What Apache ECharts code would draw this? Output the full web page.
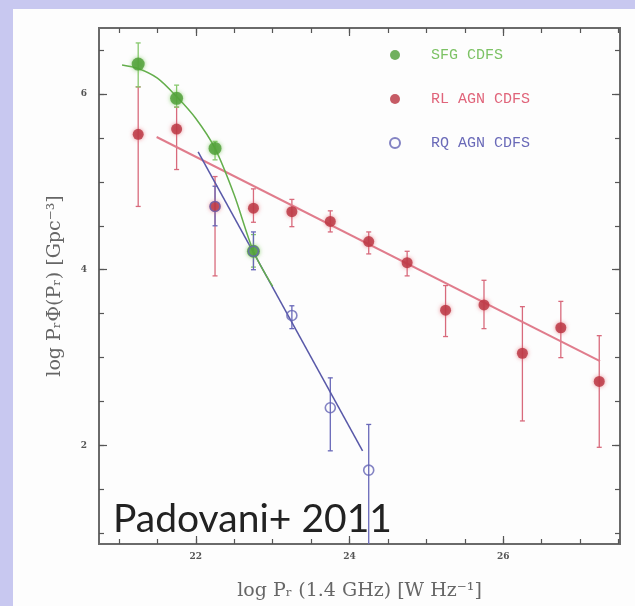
<!DOCTYPE html>
<html>
<head>
<meta charset="utf-8">
<title>Padovani+ 2011</title>
<script src="https://cdn.jsdelivr.net/npm/echarts@6/dist/echarts.min.js"></script>
<style>
	html, body { margin: 0; padding: 0; background: #c8c8f0; }
	#container { width: 635px; height: 606px; filter: blur(0.5px); }
</style>
</head>
<body>
<div id="container"></div>
<script>

// SFG CDFS
var sfgX = [21.25, 21.75, 22.25, 22.75];
var sfgY = [6.34, 5.95, 5.38, 4.21];
var sfgLo = [6.08, 5.85, 5.25, 4.03];
var sfgHi = [6.58, 6.10, 5.46, 4.40];
var sfgFitX = [21.04, 21.25, 21.5, 21.75, 22.0, 22.25, 22.5, 22.75, 23.0];
var sfgFitY = [6.33, 6.29, 6.18, 5.97, 5.72, 5.38, 4.85, 4.21, 3.81];

// RL AGN CDFS
var rlX = [21.25, 21.75, 22.25, 22.75, 23.25, 23.75, 24.25, 24.75, 25.25, 25.75, 26.25, 26.75, 27.25];
var rlY = [5.54, 5.60, 4.72, 4.70, 4.66, 4.55, 4.32, 4.08, 3.54, 3.60, 3.05, 3.34, 2.73];
var rlLo = [4.72, 5.14, 3.93, 4.54, 4.49, 4.43, 4.18, 3.93, 3.24, 3.33, 2.28, 3.00, 1.98];
var rlHi = [6.08, 5.85, 5.06, 4.92, 4.80, 4.67, 4.43, 4.21, 3.82, 3.88, 3.58, 3.64, 3.25];
var rlFitX = [21.49, 27.26];
var rlFitY = [5.51, 2.96];

// RQ AGN CDFS
var rqX = [22.25, 22.75, 23.25, 23.75, 24.25];
var rqY = [4.72, 4.21, 3.48, 2.43, 1.72];
var rqLo = [4.50, 4.00, 3.33, 1.94, 0.80];
var rqHi = [4.95, 4.43, 3.59, 2.77, 2.24];
var rqFitX = [22.03, 24.17];
var rqFitY = [5.34, 1.94];

// axes
var xMin = 20.74, xMax = 27.52;
var yMin = 0.88, yMax = 6.75;
var xMajor = [22, 24, 26];
var xMinor = [21, 21.5, 22, 22.5, 23, 23.5, 24, 24.5, 25, 25.5, 26, 26.5, 27, 27.5];
var yMajor = [2, 4, 6];
var yMinor = [1, 1.5, 2, 2.5, 3, 3.5, 4, 4.5, 5, 5.5, 6, 6.5];

function zip(a, b) {
	return a.map(function (v, i) { return [v, b[i]]; });
}

function errorSeries(xs, lo, hi, color) {
	var data = xs.map(function (x, i) { return [x, lo[i], hi[i]]; });
	return {
		type: 'custom',
		silent: true,
		clip: true,
		z: 1,
		encode: { x: 0, y: [1, 2] },
		data: data,
		renderItem: function (params, api) {
			var p1 = api.coord([api.value(0), api.value(1)]);
			var p2 = api.coord([api.value(0), api.value(2)]);
			var cap = 2.5;
			var st = { stroke: color, lineWidth: 1.3 };
			return {
				type: 'group',
				children: [
					{ type: 'line', shape: { x1: p1[0], y1: p1[1], x2: p2[0], y2: p2[1] }, style: st },
					{ type: 'line', shape: { x1: p1[0] - cap, y1: p1[1], x2: p1[0] + cap, y2: p1[1] }, style: st },
					{ type: 'line', shape: { x1: p2[0] - cap, y1: p2[1], x2: p2[0] + cap, y2: p2[1] }, style: st }
				]
			};
		}
	};
}

function xAxisDef(pos, ticks, len, labels) {
	return {
		type: 'value', position: pos, min: xMin, max: xMax,
		axisLine: { show: false },
		splitLine: { show: false },
		axisTick: { show: true, inside: true, length: len, customValues: ticks, lineStyle: { color: '#555', width: 1.2 } },
		axisLabel: labels ? {
			customValues: xMajor, margin: 8,
			fontSize: 9, fontWeight: 'bold', fontFamily: 'DejaVu Serif', color: '#555'
		} : { show: false },
		name: labels ? 'log P\u1d63 (1.4 GHz) [W Hz\u207b\u00b9]' : '',
		nameLocation: 'middle',
		nameGap: 38,
		nameTextStyle: { fontFamily: 'DejaVu Serif', fontSize: 19, color: '#666' }
	};
}

function yAxisDef(pos, ticks, len, labels) {
	return {
		type: 'value', position: pos, min: yMin, max: yMax,
		axisLine: { show: false },
		splitLine: { show: false },
		axisTick: { show: true, inside: true, length: len, customValues: ticks, lineStyle: { color: '#555', width: 1.2 } },
		axisLabel: labels ? {
			customValues: yMajor, margin: 12,
			fontSize: 9, fontWeight: 'bold', fontFamily: 'DejaVu Serif', color: '#555'
		} : { show: false },
		name: labels ? 'log P\u1d63\u03a6(P\u1d63) [Gpc\u207b\u00b3]' : '',
		nameLocation: 'middle',
		nameGap: 34,
		nameRotate: 90,
		nameTextStyle: { fontFamily: 'DejaVu Serif', fontSize: 19, color: '#666' }
	};
}

function obtenerGrafica() {
	var dom = document.getElementById('container');
	var myChart = echarts.init(dom);

	var option = {
		backgroundColor: '#c8c8f0',
		animation: false,
		grid: {
			left: 99, top: 28, right: 15, bottom: 59,
			show: true, borderColor: '#6a6a6a', borderWidth: 2, backgroundColor: 'transparent'
		},
		graphic: [
			{ type: 'rect', left: 13, top: 9, z: -10, shape: { width: 622, height: 597 }, style: { fill: '#fdfdfd' } },
			{ type: 'text', left: 113, top: 500, z: 50, style: { text: 'Padovani+ 2011', font: '39px Lato', fill: '#222' } }
		],
		legend: {
			orient: 'vertical', left: 384, top: 42,
			itemWidth: 10, itemHeight: 10, itemGap: 28,
			selectedMode: false,
			textStyle: { fontFamily: 'Liberation Mono', fontSize: 15, lineHeight: 16, padding: [0, 0, 0, 26] },
			data: [
				{ name: 'SFG CDFS', textStyle: { color: '#7cc264' } },
				{ name: 'RL AGN CDFS', textStyle: { color: '#e0647a' } },
				{ name: 'RQ AGN CDFS', textStyle: { color: '#6a6ab8' } }
			]
		},
		xAxis: [
			xAxisDef('bottom', xMajor, 8, true),
			xAxisDef('bottom', xMinor, 5, false),
			xAxisDef('top', xMajor, 8, false),
			xAxisDef('top', xMinor, 5, false)
		],
		yAxis: [
			yAxisDef('left', yMajor, 8, true),
			yAxisDef('left', yMinor, 5, false),
			yAxisDef('right', yMajor, 8, false),
			yAxisDef('right', yMinor, 5, false)
		],
		series: [
			errorSeries(rlX, rlLo, rlHi, '#d86a7c'),
			errorSeries(sfgX, sfgLo, sfgHi, '#86c86c'),
			errorSeries(rqX, rqLo, rqHi, '#6868b8'),
			{
				name: 'RL fit', type: 'line', data: zip(rlFitX, rlFitY), showSymbol: false, silent: true, z: 2,
				lineStyle: { color: '#e07c8c', width: 2 }
			},
			{
				name: 'RQ fit', type: 'line', data: zip(rqFitX, rqFitY), showSymbol: false, silent: true, z: 2,
				lineStyle: { color: '#5858a8', width: 1.5 }
			},
			{
				name: 'SFG fit', type: 'line', data: zip(sfgFitX, sfgFitY), showSymbol: false, silent: true, z: 2,
				smooth: 0.3, lineStyle: { color: '#64ae4c', width: 1.5 }
			},
			{
				name: 'RL AGN CDFS', type: 'scatter', data: zip(rlX, rlY), symbolSize: 11, z: 4,
				itemStyle: { color: '#b8323f', shadowBlur: 4, shadowColor: 'rgba(230,110,120,0.9)' }
			},
			{
				name: 'SFG CDFS', type: 'scatter', data: zip(sfgX, sfgY), symbolSize: 13, z: 5,
				itemStyle: { color: '#4c9c34', shadowBlur: 4, shadowColor: 'rgba(120,200,90,0.9)' }
			},
			{
				name: 'RQ AGN CDFS', type: 'scatter', data: zip(rqX, rqY), symbol: 'circle', symbolSize: 10, z: 6,
				itemStyle: { color: 'rgba(255,255,255,0)', borderColor: '#6464b4', borderWidth: 1.6 }
			}
		]
	};

	myChart.setOption(option, true);
}

obtenerGrafica();
</script>
</body>
</html>
